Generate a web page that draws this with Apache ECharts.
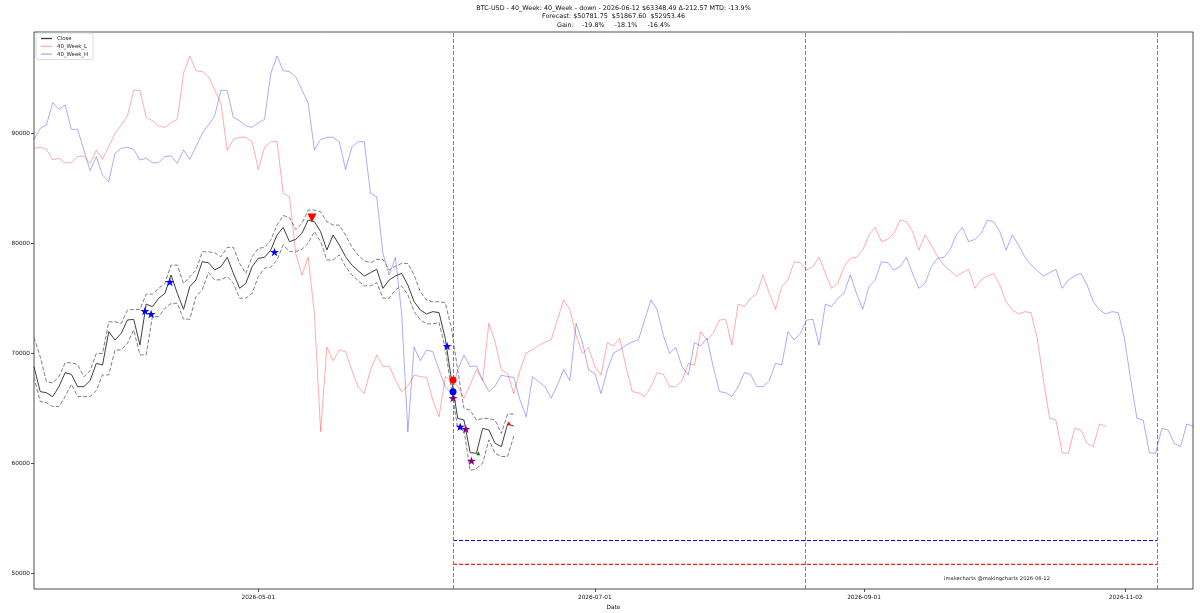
<!DOCTYPE html>
<html>
<head>
<meta charset="utf-8">
<title>BTC-USD 40_Week</title>
<script src="https://cdn.jsdelivr.net/npm/echarts@6/dist/echarts.min.js"></script>
<style>
  html, body { margin: 0; padding: 0; background: #fff; }
  #main { width: 1200px; height: 613px; }
</style>
</head>
<body>
<div id="main"></div>
<script>
// x is a day index, 0 = first close on the left edge
const closeValues = [
  68760, 66490, 66390, 66030, 66940, 68210, 68060, 66940, 66940, 67490,
  69060, 68910, 71940, 71180, 71790, 73000, 73060, 70730, 74450, 74210,
  74970, 75420, 77090, 75420, 73970, 76030, 76640, 78300, 78210, 77550,
  77850, 78700, 77240, 75880, 76330, 77850, 78610, 78700, 79360, 80730,
  81420, 80120, 80330, 80880, 82090, 81940, 81030, 79360, 80730, 79820,
  78760, 78000, 77490, 77000, 77300, 77610, 75880, 76640, 77000, 77240,
  76180, 74670, 73910, 73550, 73760, 73670, 71330, 67550, 64060, 63910,
  60940, 60880, 63150, 63000, 61790, 61490, 63550, 63350
]
const upperBand = [
  71400, 69660, 67390, 67290, 67840, 69110, 69110, 68960, 67840, 68390,
  69960, 69960, 72840, 72840, 72690, 73900, 73960, 73960, 75350, 75350,
  75870, 76320, 77990, 77990, 76320, 76930, 77540, 79200, 79200, 79110,
  78750, 79600, 79600, 78140, 77230, 78750, 79510, 79600, 80260, 81630,
  82500, 82320, 81230, 81780, 82990, 82990, 82840, 81930, 81630, 81630,
  80720, 79660, 78900, 78390, 78200, 78510, 78510, 77540, 77900, 78140,
  78140, 77080, 75570, 74810, 74660, 74660, 74570, 72230, 68450, 64960,
  64810, 63900, 64050, 64050, 63900, 62690, 64450, 64450
]
const lowerBand = [
  67800, 65590, 65490, 65130, 65130, 66040, 67160, 66040, 66040, 66040,
  66590, 68010, 68010, 70280, 70280, 70890, 72100, 69830, 69830, 73310,
  73310, 74070, 74520, 74520, 73070, 73070, 75130, 75740, 77310, 76650,
  76650, 76950, 76340, 74980, 74980, 75430, 76950, 77710, 77800, 78460,
  79830, 79220, 79220, 79430, 79980, 81040, 80130, 78460, 78460, 78920,
  77860, 77100, 76590, 76100, 76100, 76400, 74980, 74980, 75740, 76100,
  75280, 73770, 73010, 72650, 72650, 72770, 70430, 66650, 63160, 63010,
  59300, 59500, 59980, 62100, 60890, 60590, 60590, 62450
]
const weekL = [
  88610, 88700, 88520, 87550, 87700, 87300, 87300, 87850, 87910, 87240,
  88450, 87610, 88760, 89970, 90730, 91550, 93910, 93850, 91420, 91120,
  90640, 90520, 90940, 91240, 95420, 97000, 95670, 95580, 95120, 93910,
  92700, 88450, 89420, 89610, 89610, 89210, 86700, 88700, 89210, 89210,
  84520, 84210, 79060, 77090, 78700, 73600, 62850, 70520, 69300, 70270,
  70120, 68460, 66940, 66330, 68460, 69820, 68760, 68820, 67550, 66490,
  67000, 68000, 67850, 67790, 65730, 64210, 67850, 67390, 66940, 65880,
  67100, 68500, 67500, 72700, 71000, 68460, 68150, 66300, 68450, 70000,
  70300, 70700, 71000, 71200, 73000, 74820, 73950, 71600, 69970, 70500,
  68760, 68000, 70940, 70640, 71330,
  68760, 66490, 66390, 66030, 66940, 68210, 68060, 66940, 66940, 67490,
  69060, 68910, 71940, 71180, 71790, 73000, 73060, 70730, 74450, 74210,
  74970, 75420, 77090, 75420, 73970, 76030, 76640, 78300, 78210, 77550,
  77850, 78700, 77240, 75880, 76330, 77850, 78610, 78700, 79360, 80730,
  81420, 80120, 80330, 80880, 82090, 81940, 81030, 79360, 80730, 79820,
  78760, 78000, 77490, 77000, 77300, 77610, 75880, 76640, 77000, 77240,
  76180, 74670, 73910, 73550, 73760, 73670, 71330, 67550, 64060, 63910,
  60940, 60880, 63150, 63000, 61790, 61490, 63550, 63350
]
const weekH = [
  89420, 90420, 90730, 92760, 92150, 92550, 90330, 90330, 88450, 86580,
  87850, 86180, 85580, 88150,
  88610, 88700, 88520, 87550, 87700, 87300, 87300, 87850, 87910, 87240,
  88450, 87610, 88760, 89970, 90730, 91550, 93910, 93850, 91420, 91120,
  90640, 90520, 90940, 91240, 95420, 97000, 95670, 95580, 95120, 93910,
  92700, 88450, 89420, 89610, 89610, 89210, 86700, 88700, 89210, 89210,
  84520, 84210, 79060, 77090, 78700, 73600, 62850, 70520, 69300, 70270,
  70120, 68460, 66940, 66330, 68460, 69820, 68760, 68820, 67550, 66490,
  67000, 68000, 67850, 67790, 65730, 64210, 67850, 67390, 66940, 65880,
  67100, 68500, 67500, 72700, 71000, 68460, 68150, 66300, 68450, 70000,
  70300, 70700, 71000, 71200, 73000, 74820, 73950, 71600, 69970, 70500,
  68760, 68000, 70940, 70640, 71330,
  68760, 66490, 66390, 66030, 66940, 68210, 68060, 66940, 66940, 67490,
  69060, 68910, 71940, 71180, 71790, 73000, 73060, 70730, 74450, 74210,
  74970, 75420, 77090, 75420, 73970, 76030, 76640, 78300, 78210, 77550,
  77850, 78700, 77240, 75880, 76330, 77850, 78610, 78700, 79360, 80730,
  81420, 80120, 80330, 80880, 82090, 81940, 81030, 79360, 80730, 79820,
  78760, 78000, 77490, 77000, 77300, 77610, 75880, 76640, 77000, 77240,
  76180, 74670, 73910, 73550, 73760, 73670, 71330, 67550, 64060, 63910,
  60940, 60880, 63150, 63000, 61790, 61490, 63550, 63350
]

const dateTicks = [36, 90, 133.2, 175.2]
const dateLabels = ['2026-05-01', '2026-07-01', '2026-09-01', '2026-11-02']
const priceTicks = [50000, 60000, 70000, 80000, 90000]
const markerDays = [67.25, 123.7, 180.2]
const forecastLow = 50781.75
const forecastHigh = 52953.46

// signal markers [day, price]
const blueStars = [[17.8, 73820], [18.8, 73550], [21.8, 76460], [38.6, 79180], [66.3, 70640], [68.4, 63300]]
const purpleStars = [[67.25, 65910], [69.3, 63090], [70.2, 60210]]
const redDots = [[67.25, 67550]]
const blueDots = [[67.25, 66480]]
const redTops = [[44.6, 82270]]
const greenMarks = [[71.3, 60880]]
const redMarks = [[76.2, 63620]]

const FONT = 'DejaVu Sans'
const STAR = 'path://M50,0 L61.8,35.3 L98.1,35.3 L68.8,57.1 L79.4,91.8 L50,70.5 L20.6,91.8 L31.2,57.1 L1.9,35.3 L38.2,35.3 Z'

function toPairs (arr) {
  return arr.map(function (v, i) { return [i, v] })
}

function markerSeries (data, symbol, size, color, rotate) {
  return {
    type: 'scatter',
    data: data,
    symbol: symbol,
    symbolSize: size,
    symbolRotate: rotate || 0,
    symbolKeepAspect: true,
    itemStyle: { color: color, opacity: 1 },
    z: 10,
    silent: true
  }
}

let myChart = echarts.init(document.getElementById('main'), null, { renderer: 'canvas' })

let option = {
  animation: false,
  backgroundColor: '#fff',
  textStyle: { fontFamily: FONT },
  grid: {
    left: 34,
    right: 7,
    top: 32,
    bottom: 24,
    containLabel: false,
    outerBoundsMode: 'none',
    show: true,
    borderColor: '#222',
    borderWidth: 0.8,
    backgroundColor: 'transparent'
  },
  legend: {
    data: [
      { name: 'Close', icon: 'rect' },
      { name: '40_Week_L', icon: 'rect' },
      { name: '40_Week_H', icon: 'rect' }
    ],
    orient: 'vertical',
    left: 36,
    top: 33,
    itemWidth: 11,
    itemHeight: 1.3,
    itemGap: 2.8,
    padding: [3, 5, 3, 5],
    borderColor: '#d0d0d0',
    borderWidth: 0.8,
    borderRadius: 2,
    backgroundColor: '#fff',
    textStyle: { fontFamily: FONT, fontSize: 5.4, color: '#222' }
  },
  graphic: [
    {
      type: 'text', x: 613.5, y: 8,
      style: { text: 'BTC-USD - 40_Week: 40_Week - down - 2026-06-12 $63348.49 Δ-212.57 MTD: -13.9%', font: '6.4px "DejaVu Sans"', fill: '#111', align: 'center', verticalAlign: 'middle' }
    },
    {
      type: 'text', x: 613.5, y: 16.5,
      style: { text: 'Forecast: $50781.75  $51867.60  $52953.46', font: '6.4px "DejaVu Sans"', fill: '#111', align: 'center', verticalAlign: 'middle' }
    },
    {
      type: 'text', x: 613.5, y: 25,
      style: { text: 'Gain:    -19.8%     -18.1%     -16.4%', font: '6.4px "DejaVu Sans"', fill: '#111', align: 'center', verticalAlign: 'middle' }
    },
    {
      type: 'text', x: 997, y: 579,
      style: { text: 'imakecharts @makingcharts 2026-06-12', font: '5.2px "DejaVu Sans"', fill: '#222', align: 'center', verticalAlign: 'middle' }
    }
  ],
  xAxis: {
    type: 'value',
    min: 0,
    max: 186,
    name: 'Date',
    nameLocation: 'middle',
    nameGap: 15,
    nameTextStyle: { fontFamily: FONT, fontSize: 5.8, color: '#111' },
    axisLine: { show: false },
    splitLine: { show: false },
    axisTick: {
      show: true,
      customValues: dateTicks,
      length: 3,
      lineStyle: { color: '#222', width: 0.8 }
    },
    axisLabel: {
      customValues: dateTicks,
      margin: 5,
      fontFamily: FONT,
      fontSize: 5.8,
      color: '#111',
      formatter: function (value) {
        let best = 0
        for (let i = 0; i < dateTicks.length; i++) {
          if (Math.abs(dateTicks[i] - value) < Math.abs(dateTicks[best] - value)) best = i
        }
        return dateLabels[best]
      }
    }
  },
  yAxis: {
    type: 'value',
    min: 48546,
    max: 99182,
    name: 'Close',
    nameLocation: 'middle',
    nameGap: 24,
    nameRotate: 90,
    nameTextStyle: { fontFamily: FONT, fontSize: 5.8, color: '#111' },
    axisLine: { show: false },
    splitLine: { show: false },
    axisTick: {
      show: true,
      customValues: priceTicks,
      length: 3,
      lineStyle: { color: '#222', width: 0.8 }
    },
    axisLabel: {
      customValues: priceTicks,
      margin: 4,
      fontFamily: FONT,
      fontSize: 5.8,
      color: '#111',
      formatter: function (value) { return String(Math.round(value)) }
    }
  },
  series: [
    {
      name: '40_Week_L',
      type: 'line',
      data: toPairs(weekL),
      color: 'rgba(255,0,0,0.33)',
      showSymbol: false,
      lineStyle: { width: 1, color: 'rgba(255,0,0,0.33)' },
      z: 2
    },
    {
      name: '40_Week_H',
      type: 'line',
      data: toPairs(weekH),
      color: 'rgba(0,0,255,0.33)',
      showSymbol: false,
      lineStyle: { width: 1, color: 'rgba(0,0,255,0.33)' },
      z: 2
    },
    {
      name: 'upper',
      type: 'line',
      data: toPairs(upperBand),
      showSymbol: false,
      lineStyle: { width: 0.9, color: '#707070', type: [4, 2] },
      z: 3
    },
    {
      name: 'lower',
      type: 'line',
      data: toPairs(lowerBand),
      showSymbol: false,
      lineStyle: { width: 0.9, color: '#707070', type: [4, 2] },
      z: 3
    },
    {
      name: 'Close',
      type: 'line',
      data: toPairs(closeValues),
      color: '#404040',
      showSymbol: false,
      lineStyle: { width: 1, color: '#404040' },
      z: 4,
      markLine: {
        silent: true,
        symbol: 'none',
        label: { show: false },
        lineStyle: { type: [4, 2], color: '#808080', width: 1 },
        data: markerDays.map(function (d) { return { xAxis: d } })
      }
    },
    {
      name: 'forecast high',
      type: 'line',
      data: [[markerDays[0], forecastHigh], [markerDays[2], forecastHigh]],
      showSymbol: false,
      lineStyle: { width: 1, color: '#0000ff', type: [4, 2] },
      z: 3
    },
    {
      name: 'forecast low',
      type: 'line',
      data: [[markerDays[0], forecastLow], [markerDays[2], forecastLow]],
      showSymbol: false,
      lineStyle: { width: 1.1, color: '#ff1a1a', type: [4, 2] },
      z: 3
    },
    markerSeries(blueStars, STAR, 9, '#0000ff'),
    markerSeries(purpleStars, STAR, 9, '#800080'),
    markerSeries(redDots, 'circle', 7, '#ff0000'),
    markerSeries(blueDots, 'circle', 7, '#0000ff'),
    markerSeries(redTops, 'triangle', 9, '#ff0000', 180),
    markerSeries(greenMarks, 'triangle', 4, '#008000'),
    markerSeries(redMarks, 'triangle', 4, '#ff0000')
  ]
}

myChart.setOption(option)
</script>
</body>
</html>
